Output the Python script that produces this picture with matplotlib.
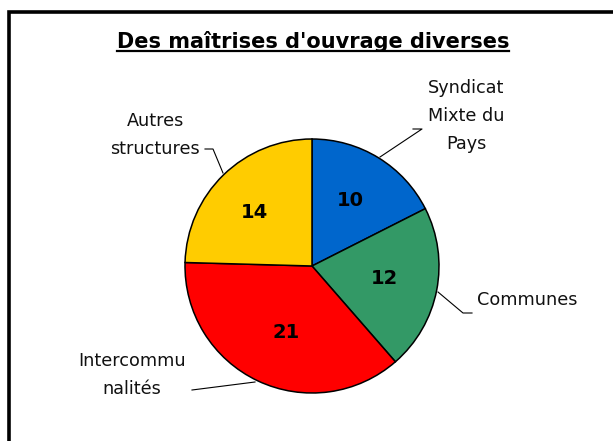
import matplotlib
matplotlib.use('Agg')
import matplotlib.pyplot as plt
from matplotlib.patches import Rectangle

labels = ["Syndicat\nMixte du\nPays", "Communes", "Intercommu\nnalités", "Autres\nstructures"]
values = [10, 12, 21, 14]
colors = ['#0066CC', '#339966', '#FF0000', '#FFCC00']
title = "Des maîtrises d'ouvrage diverses"

W, H = 613, 441
fig = plt.figure(figsize=(W / 100, H / 100), dpi=100)
ax = fig.add_axes([0, 0, 1, 1])


def Y(y):
    # pixel row (from top) -> data y (from bottom)
    return H - y


cx, cy, r = 312, Y(266), 127
wedges, texts = ax.pie(values, colors=colors, startangle=90, counterclock=False,
                       center=(cx, cy), radius=r,
                       wedgeprops=dict(edgecolor='black', linewidth=1.1))

ax.set_xlim(0, W)
ax.set_ylim(0, H)
ax.set_aspect('auto')
ax.axis('off')

# values inside slices
val_pos = [(350, 201), (384, 278), (286, 332), (254, 212)]
for v, (x, y) in zip(values, val_pos):
    ax.text(x, Y(y), str(v), ha='center', va='center', fontsize=14, fontweight='bold')

# outside labels
lab_pos = [(466, 116), (527, 300), (132, 375), (155, 135)]
for t, (x, y) in zip(labels, lab_pos):
    ax.text(x, Y(y), t, ha='center', va='center', fontsize=12.7, linespacing=1.7,
            color='#111111')

# leader lines
leaders = [
    [(413, 129), (422, 129), (380, 157)],
    [(438, 292), (463, 313), (472, 313)],
    [(192, 390), (255, 382)],
    [(205, 149), (213, 149), (223, 173)],
]
for pts in leaders:
    xs = [p[0] for p in pts]
    ys = [Y(p[1]) for p in pts]
    ax.plot(xs, ys, color='black', lw=0.8)

# title with underline
tt = ax.text(313, Y(41), title, ha='center', va='center', fontsize=15, fontweight='bold')
fig.canvas.draw()
bb = tt.get_window_extent(fig.canvas.get_renderer())
ax.plot([bb.x0, bb.x1], [bb.y0 + 1, bb.y0 + 1], color='black', lw=1.6)

# chart frame
ax.add_patch(Rectangle((9, -50), 800, Y(12) + 50, fill=False, edgecolor='black', lw=2.6))

ax.set_xlim(0, W)
ax.set_ylim(0, H)

plt.savefig("out.png", dpi=100)
